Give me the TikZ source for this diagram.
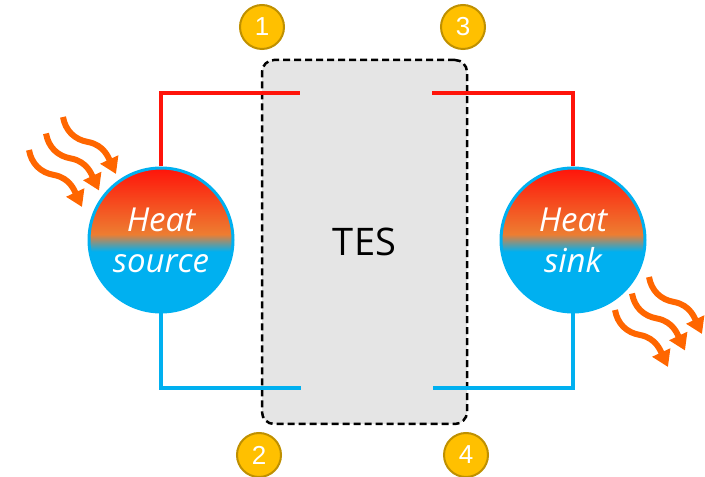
\documentclass[tikz,border=0pt]{standalone}
\usepackage{fontspec}
\setmainfont{Open Sans}
\newfontfamily\numfont{Liberation Sans}
\usepackage{tikz}
\usetikzlibrary{arrows.meta, shapes.geometric, positioning}
\definecolor{HotRed}{RGB}{255,20,10}
\definecolor{WarmOrange}{RGB}{237,125,49}
\definecolor{CoolBlue}{RGB}{0,176,240}
\definecolor{TagGold}{RGB}{255,192,0}
\definecolor{TagEdge}{RGB}{191,144,0}
\definecolor{WaveOrange}{RGB}{255,102,0}
\definecolor{BoxGray}{RGB}{229,229,229}
% degradado de las esferas: azul abajo, naranja en el centro, rojo arriba
\pgfdeclareverticalshading{heatball}{100bp}{color(0bp)=(CoolBlue); color(46bp)=(CoolBlue);
	color(52bp)=(WarmOrange); color(75bp)=(HotRed); color(100bp)=(HotRed)}

\begin{document}
\begin{tikzpicture}[x=1pt, y=1pt,
	tesbox/.style={rectangle, minimum width=205pt, minimum height=364pt, rounded corners=12pt,
		fill=BoxGray, draw=black, line width=2.5pt, dash pattern=on 7pt off 4pt,
		font=\fontsize{38}{40}\selectfont},
	heatnode/.style={circle, minimum size=144pt, inner sep=0pt, shading=heatball, draw=CoolBlue,
		line width=3pt, text=white, align=center, font=\fontsize{33}{41}\selectfont\itshape},
	pipe/.style={line width=3.5pt},
	numtag/.style={circle, minimum size=44pt, inner sep=0pt, fill=TagGold, draw=TagEdge,
		line width=2pt, text=white, font=\numfont\fontsize{26}{26}\selectfont},
	heatwave/.style={WaveOrange, line width=6pt, -{Triangle[length=16pt, width=19pt]}}]
	\useasboundingbox (0,0) rectangle (705,477);
	% almacenamiento térmico
	\node[tesbox] (tes) at (364.5,235) {TES};
	% fuente y sumidero
	\node[heatnode] (src) at (161,237) {Heat\\source};
	\node[heatnode] (snk) at (573,237) {Heat\\sink};
	% extremos de las tuberías dentro de la caja
	\coordinate (p1) at (300,384);
	\coordinate (p2) at (301,89);
	\coordinate (p3) at (432,384);
	\coordinate (p4) at (433,89);
	\draw[pipe, HotRed] (src.north) |- (p1);
	\draw[pipe, CoolBlue] (src.south) |- (p2);
	\draw[pipe, HotRed] (snk.north) |- (p3);
	\draw[pipe, CoolBlue] (snk.south) |- (p4);
	% puntos numerados
	\node[numtag] (n1) at (262,450) {1};
	\node[numtag] (n2) at (259,22) {2};
	\node[numtag] (n3) at (463,450) {3};
	\node[numtag] (n4) at (466,22) {4};
	% calor que entra y que sale
	\foreach \i in {0,1,2}{
		\draw[heatwave] (29+17*\i, 327+16.5*\i) to[out=-80, in=170] ++(25,-25) to[out=-10, in=115] ++(28,-32);
		\draw[heatwave] (615+17*\i, 167+16.5*\i) to[out=-80, in=170] ++(25,-25) to[out=-10, in=115] ++(28,-32);
	}
\end{tikzpicture}
\end{document}
